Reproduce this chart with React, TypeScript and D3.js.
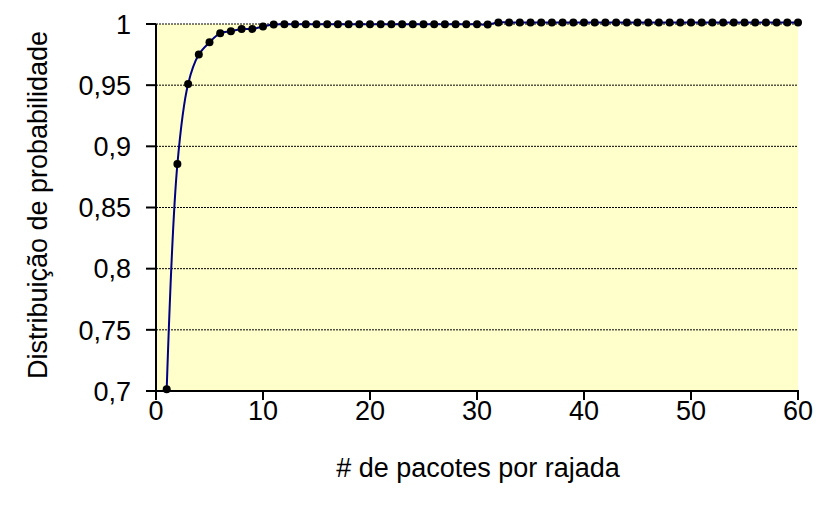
import React from "react";
import * as d3 from "d3";

const xValues = [
  1, 2, 3, 4, 5, 6, 7, 8, 9, 10,
  11, 12, 13, 14, 15, 16, 17, 18, 19, 20,
  21, 22, 23, 24, 25, 26, 27, 28, 29, 30,
  31, 32, 33, 34, 35, 36, 37, 38, 39, 40,
  41, 42, 43, 44, 45, 46, 47, 48, 49, 50,
  51, 52, 53, 54, 55, 56, 57, 58, 59, 60,
];
const yValues = [
  0.7015, 0.8855, 0.951, 0.975, 0.985, 0.9925, 0.994, 0.996, 0.996, 0.998,
  0.9995, 0.9997, 0.9997, 0.9997, 0.9997, 0.9997, 0.9997, 0.9997, 0.9997, 0.9997,
  0.9997, 0.9997, 0.9997, 0.9997, 0.9997, 0.9997, 0.9997, 0.9997, 0.9997, 0.9997,
  0.9995, 1.0013, 1.0013, 1.0013, 1.0013, 1.0013, 1.0013, 1.0013, 1.0013, 1.0013,
  1.0013, 1.0013, 1.0013, 1.0013, 1.0013, 1.0013, 1.0013, 1.0013, 1.0013, 1.0013,
  1.0013, 1.0013, 1.0013, 1.0013, 1.0013, 1.0013, 1.0013, 1.0013, 1.0013, 1.0013,
];
const xTicks = [0, 10, 20, 30, 40, 50, 60];
const yTicks = [0.7, 0.75, 0.8, 0.85, 0.9, 0.95, 1];
const yTickLabels = ["0,7", "0,75", "0,8", "0,85", "0,9", "0,95", "1"];
const xTitle = "# de pacotes por rajada";
const yTitle = "Distribuição de probabilidade";

const W = 817;
const H = 515;
const L = 156;
const R = 798;
const T = 24;
const B = 391;
const FS = 27;
const FONT = "'Liberation Sans', Arial, sans-serif";

export default function App() {
  const x = d3.scaleLinear().domain([0, 60]).range([L, R]);
  const y = d3.scaleLinear().domain([0.7, 1]).range([B, T]);
  const pts: [number, number][] = xValues.map((v, i) => [v, yValues[i]]);
  const line = d3
    .line<[number, number]>()
    .x((d) => x(d[0]))
    .y((d) => y(d[1]))
    .curve(d3.curveCatmullRom.alpha(0.5));

  return (
    <svg
      width={W}
      height={H}
      style={{ position: "absolute", left: 0, top: 0, display: "block", background: "#fff" }}
      fontFamily={FONT}
    >
      <rect x={L} y={T} width={R - L} height={B - T} fill="#FFFFCC" />
      {yTicks.slice(1).map((t) => (
        <line
          key={"g" + t}
          x1={L}
          x2={R}
          y1={y(t)}
          y2={y(t)}
          stroke="#000"
          strokeWidth={1}
          strokeDasharray="2,1"
        />
      ))}
      <line x1={L} x2={L} y1={T} y2={B + 9} stroke="#000" strokeWidth={2} />
      <line x1={L - 10} x2={R + 1} y1={B} y2={B} stroke="#000" strokeWidth={2} />
      {yTicks.map((t, i) => (
        <g key={"y" + t}>
          <line x1={L - 10} x2={L} y1={y(t)} y2={y(t)} stroke="#000" strokeWidth={2} />
          <text
            x={131}
            y={y(t)}
            dy="0.36em"
            textAnchor="end"
            fontSize={FS}
            fill="#000"
          >
            {yTickLabels[i]}
          </text>
        </g>
      ))}
      {xTicks.map((t) => (
        <g key={"x" + t}>
          <line x1={x(t)} x2={x(t)} y1={B} y2={B + 9} stroke="#000" strokeWidth={2} />
          <text x={x(t)} y={420} textAnchor="middle" fontSize={FS} fill="#000">
            {t}
          </text>
        </g>
      ))}
      <path d={line(pts) || ""} fill="none" stroke="#000080" strokeWidth={2} />
      {pts.map((d, i) => (
        <circle key={"p" + i} cx={x(d[0])} cy={y(d[1])} r={4} fill="#000" />
      ))}
      <text x={478} y={477} textAnchor="middle" fontSize={FS} fill="#000">
        {xTitle}
      </text>
      <text
        transform={`translate(37, 205) rotate(-90)`}
        textAnchor="middle"
        dy="0.36em"
        fontSize={FS}
        fill="#000"
      >
        {yTitle}
      </text>
    </svg>
  );
}
